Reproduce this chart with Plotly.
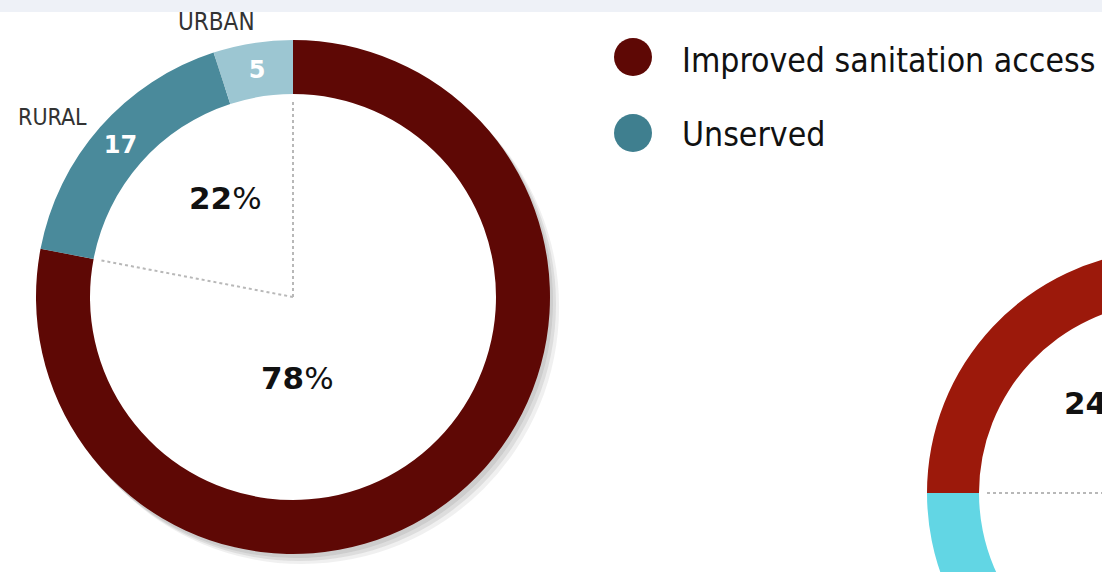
import math
import plotly.graph_objects as go

# ---- data ----
categories = ["Improved sanitation access", "Rural unserved", "Urban unserved"]
values = [78, 17, 5]
slice_text = ["", "17", "5"]
share_labels = ["78", "22"]
outer_labels = ["RURAL", "URBAN"]
legend_labels = ["Improved sanitation access", "Unserved"]
second_categories = ["Improved sanitation access", "Unserved"]
second_values = [24, 76]
second_label = "24"

# ---- canvas (larger than window; window shows the top-left 1102x572) ----
W, H = 1420, 760


def px(x):
    return x / W


def py(y):
    return 1 - y / H


def dom(cx, cy, r):
    return dict(x=[px(cx - r), px(cx + r)], y=[py(cy + r), py(cy - r)])


def polar(cx, cy, r, deg):
    a = math.radians(deg)
    return cx + r * math.sin(a), cy - r * math.cos(a)


colors = ["#5e0805", "#4a8a9b", "#9cc6d2"]
second_colors = ["#9c190b", "#62d6e4"]

CX, CY, R, RIN = 293, 297, 257, 203
CX2, CY2, R2, RIN2 = 1170, 493, 243, 191

COND = "DejaVu Sans Condensed, DejaVu Sans"

fig = go.Figure()

# soft shadow under main ring
for dx, dy, a in [(3, 4, 0.10), (6, 7, 0.10), (9, 10, 0.08)]:
    fig.add_trace(go.Pie(
        values=[1], marker=dict(colors=[f"rgba(60,60,60,{a})"], line=dict(width=0)),
        domain=dom(CX + dx, CY + dy, R), hole=(RIN + 25) / R, sort=False,
        textinfo="none", hoverinfo="skip", showlegend=False))

fig.add_trace(go.Pie(
    labels=categories, values=values, text=slice_text, textinfo="text",
    textposition="inside", insidetextorientation="horizontal",
    insidetextfont=dict(color="white", size=24, family="DejaVu Sans", weight="bold"),
    marker=dict(colors=colors, line=dict(width=0)),
    domain=dom(CX, CY, R), hole=RIN / R, sort=False, direction="clockwise",
    rotation=0, showlegend=False, hoverinfo="label+value"))

fig.add_trace(go.Pie(
    labels=second_categories, values=second_values, textinfo="none",
    marker=dict(colors=second_colors, line=dict(width=0)),
    domain=dom(CX2, CY2, R2), hole=RIN2 / R2, sort=False, direction="clockwise",
    rotation=270, showlegend=False, hoverinfo="label+value"))

shapes = []
# top band
shapes.append(dict(type="rect", xref="paper", yref="paper", x0=0, x1=1,
                   y0=py(12), y1=1, fillcolor="#eef1f7", line=dict(width=0), layer="below"))

# dotted radii at the improved-slice boundaries
total = sum(values)
for deg in [0, 360 * values[0] / total]:
    x1, y1 = polar(CX, CY, RIN - 6, deg)
    shapes.append(dict(type="line", xref="paper", yref="paper", x0=px(CX), y0=py(CY),
                       x1=px(x1), y1=py(y1), line=dict(color="#b8b8b8", width=2, dash="dot")))
total2 = sum(second_values)
for deg in [270, 270 + 360 * second_values[0] / total2]:
    x1, y1 = polar(CX2, CY2, RIN2 - 6, deg)
    shapes.append(dict(type="line", xref="paper", yref="paper", x0=px(CX2), y0=py(CY2),
                       x1=px(x1), y1=py(y1), line=dict(color="#b8b8b8", width=2, dash="dot")))

# legend circles
leg_colors = [colors[0], "#3f7f8f"]
leg_y = [57, 133]
for c, yy in zip(leg_colors, leg_y):
    shapes.append(dict(type="circle", xref="paper", yref="paper",
                       x0=px(633 - 19), x1=px(633 + 19), y0=py(yy + 19), y1=py(yy - 19),
                       fillcolor=c, line=dict(width=0)))

annotations = []
for lab, yy in zip(legend_labels, [60, 134]):
    annotations.append(dict(text=lab, xref="paper", yref="paper", x=px(680), y=py(yy),
                            xanchor="left", yanchor="middle", showarrow=False,
                            font=dict(family=COND, size=33.5, color="#111")))

annotations.append(dict(text=outer_labels[0], xref="paper", yref="paper", x=px(52), y=py(117),
                        xanchor="center", yanchor="middle", showarrow=False,
                        font=dict(family=COND, size=23, color="#333")))
annotations.append(dict(text=outer_labels[1], xref="paper", yref="paper", x=px(216), y=py(22),
                        xanchor="center", yanchor="middle", showarrow=False,
                        font=dict(family=COND, size=24, color="#333")))

for lab, (xx, yy) in zip(share_labels, [(297, 378), (225, 198)]):
    annotations.append(dict(text=f"<b>{lab}</b>%", xref="paper", yref="paper", x=px(xx), y=py(yy),
                            xanchor="center", yanchor="middle", showarrow=False,
                            font=dict(family="DejaVu Sans", size=31, color="#111")))
annotations.append(dict(text=f"<b>{second_label}</b>%", xref="paper", yref="paper", x=px(1062),
                        y=py(403), xanchor="left", yanchor="middle", showarrow=False,
                        font=dict(family="DejaVu Sans", size=31, color="#111")))

fig.update_layout(
    width=W, height=H, margin=dict(l=0, r=0, t=0, b=0),
    paper_bgcolor="white", plot_bgcolor="white",
    shapes=shapes, annotations=annotations, showlegend=False,
)

fig.write_html("out.html",
               post_script="document.body.style.margin='0';document.body.style.overflow='hidden';")
